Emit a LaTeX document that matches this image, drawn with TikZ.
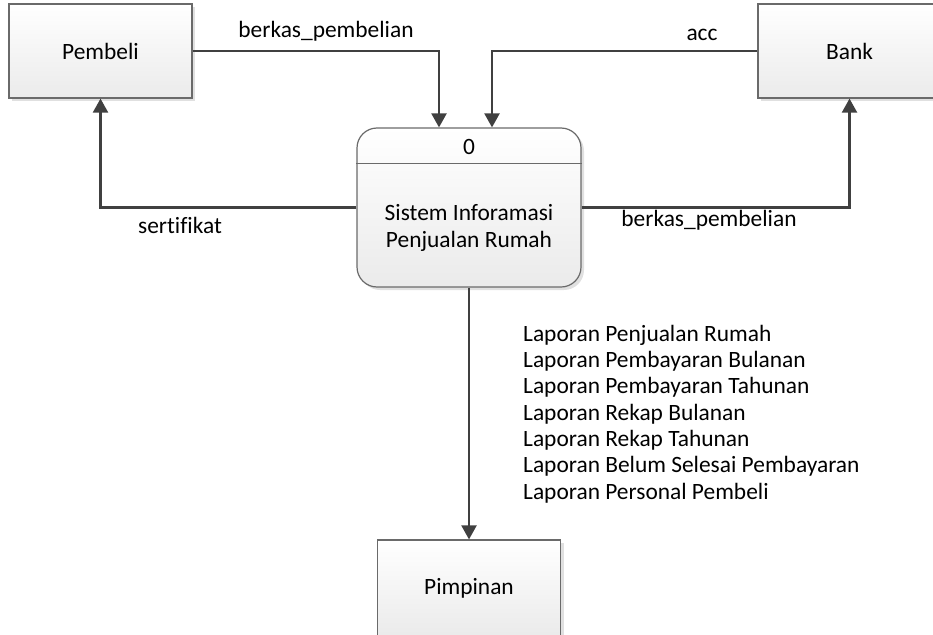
\documentclass[tikz,border=0pt]{standalone}
\usepackage{fontspec}
\setmainfont{Carlito}[Ligatures=NoCommon]
\usetikzlibrary{arrows.meta,shadows,calc}
\definecolor{linec}{HTML}{404040}
\definecolor{borderc}{HTML}{6A6A6A}
\begin{document}
\begin{tikzpicture}[x=1pt,y=-1pt,
  font=\fontsize{23.4}{26.3}\selectfont,
  entity/.style={draw=borderc,line width=1.2pt,top color=white,bottom color=black!8,
    minimum width=183pt,minimum height=94pt,inner sep=0pt,
    drop shadow={shadow xshift=3pt,shadow yshift=-3pt,fill=black!12,opacity=1}},
  procbox/.style={entity,rounded corners=20pt,minimum width=224pt,minimum height=159pt},
  flow/.style={draw=linec,line width=2.2pt,-{Triangle[length=14pt,width=15pt]}},
  lbl/.style={inner sep=0pt,text=black}]
\useasboundingbox (0,0) rectangle (933,634);
\node[entity] (pembeli) at (100.5,51) {Pembeli};
\node[entity] (bank) at (849.5,51) {Bank};
\node[procbox] (sys) at (469,207.5) {};
\draw[borderc,line width=1.2pt] ($(sys.north west)+(0,36)$) -- ($(sys.north east)+(0,36)$);
\node[lbl] (num) at (469,147) {0};
\node[lbl,align=center] (systext) at (469,228) {Sistem Inforamasi\\Penjualan Rumah};
\node[entity,minimum height=96pt] (pimpinan) at (469,588) {Pimpinan};

\draw[flow] (pembeli.east) -| ($(sys.north)+(-30,0)$);
\draw[flow] (bank.west) -| ($(sys.north)+(23,0)$);
\draw[flow] (sys.west) -| (pembeli.south);
\draw[flow] (sys.east) -| (bank.south);
\draw[flow] (sys.south) -- (pimpinan.north);

\node[lbl] (l1) at (326,31) {berkas\_pembelian};
\node[lbl] (l2) at (702,35) {acc};
\node[lbl] (l3) at (180,225) {sertifikat};
\node[lbl] (l4) at (709,220) {berkas\_pembelian};
\node[lbl,anchor=west,align=left] (lap) at (523,414) {Laporan Penjualan Rumah\\Laporan Pembayaran Bulanan\\Laporan Pembayaran Tahunan\\Laporan Rekap Bulanan\\Laporan Rekap Tahunan\\Laporan Belum Selesai Pembayaran\\Laporan Personal Pembeli};
\end{tikzpicture}
\end{document}
